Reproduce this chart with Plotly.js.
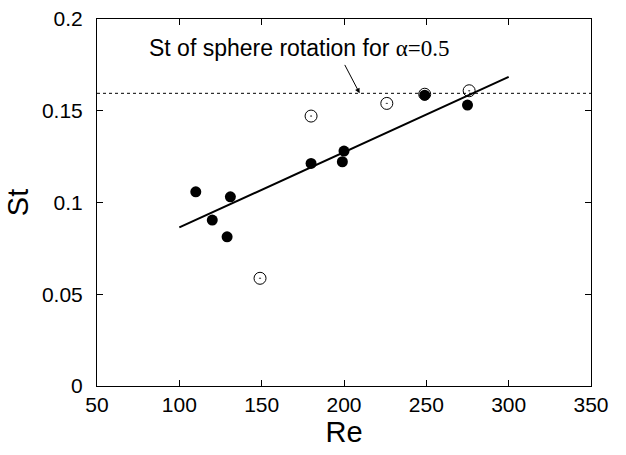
<!DOCTYPE html>
<html>
<head>
<meta charset="utf-8">
<script src="https://cdn.plot.ly/plotly-3.0.1.min.js"></script>
<style>html,body{margin:0;padding:0;background:#fff;}#chart{width:626px;height:455px;}</style>
</head>
<body>
<div id="chart"></div>
<script>
// Filled circles (measured Strouhal numbers)
const filledRe = [110, 120, 129, 131, 180, 199, 200, 249, 275];
const filledSt = [0.1058, 0.0904, 0.0813, 0.1031, 0.1213, 0.1222, 0.128, 0.1585, 0.1531];
// Open circles
const openRe = [149, 180, 226, 249, 276];
const openSt = [0.0587, 0.1471, 0.154, 0.159, 0.1609];
// Linear fit
const fitRe = [100, 300];
const fitSt = [0.0864, 0.1685];
// St of sphere rotation for alpha = 0.5
const sphereSt = 0.1595;
const refRe = [50, 350];
const xTicks = [50, 100, 150, 200, 250, 300, 350];
const yTicks = [0, 0.05, 0.1, 0.15, 0.2];
const yTickText = ['0', '0.05', '0.1', '0.15', '0.2'];

const font = 'Liberation Sans, Arial, sans-serif';

const traces = [
  {x: refRe, y: refRe.map(() => sphereSt), mode: 'lines', line: {color: '#000', width: 1, dash: 'dot'}, hoverinfo: 'skip'},
  {x: fitRe, y: fitSt, mode: 'lines', line: {color: '#000', width: 2}},
  {x: openRe, y: openSt, mode: 'markers', marker: {symbol: 'circle-open-dot', size: 12, color: '#000', line: {width: 1, color: '#000'}}},
  {x: filledRe, y: filledSt, mode: 'markers', marker: {symbol: 'circle', size: 11, color: '#000'}}
];

const axisCommon = {
  showline: true, linecolor: '#000', linewidth: 1, mirror: 'ticks',
  ticks: 'inside', ticklen: 6, tickwidth: 1, tickcolor: '#000',
  showgrid: false, zeroline: false,
  tickfont: {family: font, size: 21, color: '#000'}
};

const layout = {
  width: 626, height: 455,
  margin: {l: 97, r: 35, t: 19, b: 69},
  paper_bgcolor: '#fff', plot_bgcolor: '#fff',
  showlegend: false,
  xaxis: Object.assign({}, axisCommon, {
    range: [50, 350], tickvals: xTicks,
    title: {text: 'Re', font: {family: font, size: 29, color: '#000'}, standoff: 2}
  }),
  yaxis: Object.assign({}, axisCommon, {
    range: [0, 0.2], tickvals: yTicks, ticktext: yTickText, ticklabelstandoff: 9,
    title: {text: 'St', font: {family: font, size: 29, color: '#000'}, standoff: 4}
  }),
  annotations: [
    {x: 80.5, y: 0.1842, xref: 'x', yref: 'y', xanchor: 'left', yanchor: 'middle',
     text: 'St of sphere rotation for <span style="font-family:Liberation Serif, Times New Roman, serif">α=0.5</span>',
     showarrow: false, font: {family: font, size: 23, color: '#000'}},
    {x: 209.5, y: sphereSt, xref: 'x', yref: 'y', ax: 200, ay: 0.1758, axref: 'x', ayref: 'y',
     text: '', showarrow: true, arrowhead: 2, arrowsize: 1, arrowwidth: 1, arrowcolor: '#000'}
  ]
};

Plotly.newPlot('chart', traces, layout, {displayModeBar: false, staticPlot: true});
</script>
</body>
</html>
